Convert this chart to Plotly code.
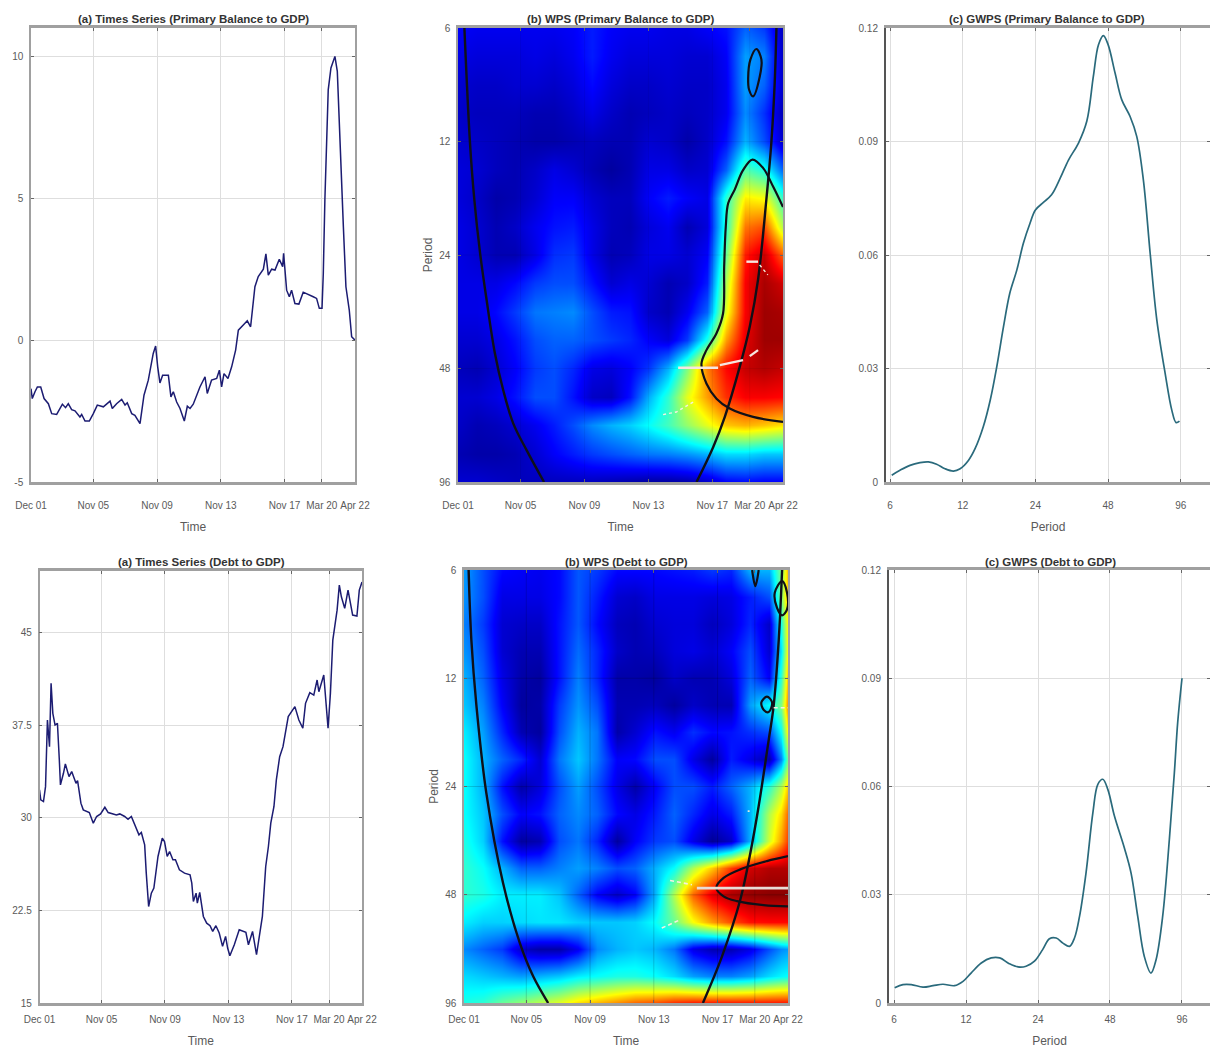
import plotly.graph_objects as go

# ---------- tick labels ----------
time_tick_vals = [2001.92, 2005.83, 2009.83, 2013.83, 2017.83, 2020.17, 2022.25]
time_tick_text = ["Dec 01", "Nov 05", "Nov 09", "Nov 13", "Nov 17", "Mar 20", "Apr 22"]
period_ticks = [6, 12, 24, 48, 96]

# ---------- (a) time series, primary balance ----------
pb_time = [2001.92,2002.00,2002.17,2002.32,2002.53,2002.74,2003.01,2003.22,2003.53,2003.89,2004.09,2004.26,2004.47,2004.68,2004.99,2005.10,2005.31,2005.58,2005.83,2006.08,2006.46,2006.88,2007.02,2007.29,2007.61,2007.82,2007.96,2008.24,2008.44,2008.76,2009.01,2009.28,2009.59,2009.74,2009.87,2010.01,2010.18,2010.54,2010.70,2010.85,2011.06,2011.27,2011.54,2011.73,2011.90,2012.10,2012.52,2012.84,2012.98,2013.25,2013.57,2013.74,2013.88,2014.03,2014.28,2014.51,2014.76,2014.93,2015.24,2015.49,2015.70,2015.97,2016.18,2016.50,2016.66,2016.81,2017.02,2017.23,2017.50,2017.71,2017.77,2017.96,2018.13,2018.27,2018.48,2018.73,2019.00,2019.32,2019.63,2019.84,2020.01,2020.18,2020.26,2020.36,2020.57,2020.74,2020.99,2021.14,2021.31,2021.52,2021.68,2021.89,2022.04,2022.25]
pb_value = [-1.71,-2.06,-1.82,-1.65,-1.65,-2.06,-2.24,-2.59,-2.62,-2.26,-2.38,-2.24,-2.45,-2.49,-2.71,-2.62,-2.85,-2.85,-2.59,-2.29,-2.35,-2.15,-2.41,-2.24,-2.09,-2.29,-2.21,-2.59,-2.65,-2.94,-1.94,-1.41,-0.47,-0.21,-0.94,-1.51,-1.24,-1.24,-2.0,-1.82,-2.18,-2.41,-2.85,-2.33,-2.41,-2.26,-1.65,-1.29,-1.88,-1.41,-1.35,-1.06,-1.65,-1.18,-1.35,-0.94,-0.35,0.35,0.53,0.68,0.47,1.88,2.24,2.5,3.04,2.29,2.5,2.47,2.85,2.59,3.06,1.76,1.53,1.76,1.29,1.27,1.69,1.62,1.53,1.47,1.12,1.12,2.35,4.94,8.82,9.59,10.0,9.47,7.29,4.0,1.88,1.06,0.12,0.0]

# ---------- (a) time series, debt ----------
debt_time = [2001.92,2002.00,2002.17,2002.30,2002.42,2002.55,2002.65,2002.76,2002.90,2003.05,2003.17,2003.24,2003.43,2003.55,2003.78,2003.95,2004.22,2004.32,2004.53,2004.68,2005.06,2005.31,2005.52,2005.77,2006.04,2006.25,2006.77,2006.98,2007.29,2007.50,2007.71,2008.03,2008.19,2008.34,2008.55,2008.65,2008.80,2008.97,2009.13,2009.39,2009.66,2009.80,2009.97,2010.12,2010.33,2010.49,2010.74,2011.06,2011.41,2011.52,2011.62,2011.79,2011.87,2012.02,2012.25,2012.46,2012.67,2012.84,2013.04,2013.25,2013.46,2013.65,2013.78,2013.92,2014.20,2014.51,2014.93,2015.09,2015.35,2015.60,2015.81,2015.97,2016.18,2016.35,2016.50,2016.70,2016.85,2017.06,2017.27,2017.44,2017.60,2018.02,2018.27,2018.52,2018.69,2018.96,2019.21,2019.42,2019.53,2019.84,2019.99,2020.11,2020.26,2020.41,2020.68,2020.82,2020.95,2021.16,2021.37,2021.66,2021.93,2022.08,2022.25]
debt_value = [32.26,31.46,31.32,32.53,37.93,35.77,40.9,38.47,37.52,37.66,34.69,32.67,33.61,34.37,33.34,33.75,32.8,33.02,31.19,30.65,30.43,29.57,30.11,30.32,30.86,30.43,30.24,30.32,30.11,29.89,30.11,29.03,28.62,28.81,27.81,25.52,22.82,23.9,24.31,26.87,28.35,28.08,26.87,27.27,26.6,26.6,25.79,25.52,25.39,24.71,23.23,23.9,23.09,23.96,22.01,21.47,21.26,20.8,21.26,20.67,19.59,20.4,19.45,18.83,19.72,20.93,20.72,19.72,20.8,18.91,20.67,22.01,26.06,27.68,29.57,30.92,33.07,34.96,35.77,37.12,38.2,39.01,37.93,37.26,39.28,40.14,39.95,41.17,40.22,41.57,39.01,37.26,40.09,44.4,46.83,48.85,47.91,46.97,48.45,46.43,46.35,48.45,49.1]

# ---------- (c) global wavelet power ----------
gwps_pb_period = [6.10,6.60,7.26,7.99,8.65,9.36,10.14,10.98,11.71,12.67,13.5,14.6,15.6,16.6,17.7,18.8,20.1,21.4,22.8,24,25.9,28.0,30.4,32.9,36.2,39.2,41.7,43.8,45.9,48,51.3,54.7,59.2,63.1,67.2,71.7,76.4,82.7,88.1,91.8,94.8]
gwps_pb_value = [.0018,.0031,.0044,.0051,.0053,.0047,.0035,.0029,.0035,.0057,.0088,.0146,.0216,.0304,.0410,.0499,.0560,.0631,.0684,.0719,.0739,.0759,.0803,.0851,.0896,.0954,.1072,.1156,.1180,.1156,.1081,.1010,.0966,.0913,.0798,.0604,.0428,.0287,.0190,.0157,.0161]
gwps_debt_period = [6.04,6.54,7.09,7.93,8.73,9.61,10.75,11.66,12.6,13.9,15.3,16.6,18.2,19.8,21.4,23.2,25.1,26.8,28.6,30.5,32.5,34.1,35.8,38.1,40.7,42.7,44.8,47.0,50.1,55.1,58.8,62.7,66.8,71.2,74.8,79.7,85.0,89.2,92.1,96]
gwps_debt_value = [.0042,.0051,.0051,.0044,.0048,.0052,.0048,.0060,.0083,.0111,.0125,.0125,.0109,.0100,.0102,.0116,.0148,.0178,.0180,.0166,.0157,.0180,.0240,.0360,.0527,.0606,.0620,.0592,.0518,.0430,.0360,.0240,.0129,.0083,.0120,.0240,.0453,.0638,.0777,.0900]

# ---------- (b) wavelet power grids ----------
wps_periods = [6,7.14,8.49,10.09,12,14.27,16.97,20.18,24,28.54,33.94,40.36,48,57.08,67.88,80.73,96]
wps_pb_time = [2001.92,2003.12,2004.31,2005.51,2006.71,2007.90,2009.10,2010.29,2011.49,2012.68,2013.88,2015.07,2016.27,2017.47,2018.66,2019.86,2021.05,2022.25]
wps_debt_time = [2001.92,2003.12,2004.31,2005.51,2006.71,2007.90,2009.10,2010.29,2011.49,2012.68,2013.88,2015.07,2016.27,2017.47,2018.66,2019.86,2021.05,2021.8,2022.25]

wps_pb = [
 [.12,.11,.11,.11,.11,.11,.12,.15,.12,.11,.11,.10,.10,.12,.14,.22,.18,.06],
 [.10,.09,.09,.09,.10,.09,.11,.15,.11,.09,.09,.09,.08,.08,.12,.28,.25,.06],
 [.08,.07,.07,.08,.08,.07,.09,.13,.09,.07,.07,.08,.07,.07,.11,.28,.22,.07],
 [.07,.06,.06,.06,.05,.05,.07,.10,.07,.05,.06,.07,.06,.07,.11,.26,.17,.05],
 [.08,.07,.06,.05,.04,.04,.05,.06,.05,.05,.08,.07,.04,.07,.14,.30,.20,.07],
 [.09,.08,.06,.05,.07,.10,.08,.05,.03,.05,.10,.10,.07,.08,.22,.46,.40,.22],
 [.09,.07,.04,.05,.08,.12,.12,.08,.06,.06,.12,.15,.12,.10,.42,.64,.62,.42],
 [.10,.08,.05,.07,.11,.14,.15,.10,.06,.05,.09,.11,.05,.09,.42,.76,.80,.55],
 [.10,.08,.05,.05,.10,.17,.18,.10,.05,.06,.10,.10,.08,.12,.48,.85,.93,.78],
 [.10,.10,.10,.13,.18,.20,.20,.14,.08,.10,.08,.05,.07,.15,.55,.88,.96,.92],
 [.10,.10,.13,.18,.24,.25,.26,.20,.15,.14,.07,.05,.11,.22,.60,.88,.97,.96],
 [.08,.08,.10,.14,.20,.22,.22,.20,.18,.16,.12,.09,.18,.40,.72,.90,.97,.97],
 [.06,.05,.08,.12,.18,.20,.16,.10,.09,.12,.18,.30,.50,.75,.87,.93,.95,.93],
 [.08,.08,.10,.14,.20,.20,.14,.07,.06,.14,.30,.42,.60,.72,.83,.88,.88,.87],
 [.07,.05,.06,.08,.11,.15,.20,.26,.30,.33,.38,.44,.52,.60,.68,.70,.68,.65],
 [.05,.04,.04,.05,.08,.12,.15,.18,.20,.22,.24,.25,.27,.30,.34,.34,.32,.32],
 [.08,.08,.07,.06,.06,.06,.06,.06,.05,.04,.03,.03,.04,.07,.12,.13,.12,.12],
]
wps_debt = [
 [.28,.20,.13,.12,.11,.13,.21,.18,.13,.13,.13,.14,.15,.18,.16,.30,.30,.50,.70],
 [.27,.20,.10,.10,.10,.13,.21,.15,.08,.07,.10,.10,.10,.09,.10,.15,.20,.50,.70],
 [.25,.18,.08,.07,.07,.14,.21,.13,.06,.05,.08,.09,.09,.06,.09,.16,.07,.40,.65],
 [.27,.20,.08,.05,.05,.14,.23,.16,.07,.05,.06,.09,.10,.08,.12,.20,.08,.35,.65],
 [.30,.22,.10,.04,.03,.14,.25,.16,.04,.04,.03,.07,.05,.05,.09,.22,.12,.42,.70],
 [.32,.25,.12,.03,.04,.18,.27,.20,.05,.05,.06,.03,.07,.05,.05,.28,.38,.50,.75],
 [.36,.28,.16,.05,.03,.20,.30,.24,.04,.08,.14,.11,.17,.13,.14,.17,.20,.38,.65],
 [.38,.30,.22,.16,.08,.24,.32,.24,.12,.13,.20,.20,.10,.03,.15,.10,.04,.25,.50],
 [.38,.30,.14,.04,.09,.20,.28,.20,.10,.04,.12,.20,.20,.15,.22,.30,.42,.55,.68],
 [.38,.32,.20,.12,.14,.22,.26,.22,.13,.10,.15,.22,.16,.10,.15,.30,.55,.66,.78],
 [.40,.33,.14,.03,.05,.20,.24,.16,.03,.12,.18,.20,.10,.02,.07,.30,.58,.72,.82],
 [.42,.38,.30,.22,.22,.25,.28,.25,.20,.22,.30,.38,.55,.68,.82,.92,.95,.95,.95],
 [.42,.40,.36,.36,.36,.32,.22,.12,.07,.12,.30,.55,.78,.90,.96,.98,.99,.99,.99],
 [.36,.33,.33,.34,.35,.35,.33,.32,.32,.33,.38,.48,.62,.72,.80,.86,.87,.87,.87],
 [.26,.22,.18,.07,.04,.04,.11,.26,.30,.32,.30,.24,.10,.05,.05,.10,.20,.26,.28],
 [.34,.32,.30,.28,.30,.32,.36,.38,.40,.40,.38,.34,.28,.25,.25,.28,.34,.37,.38],
 [.40,.42,.48,.52,.56,.60,.66,.70,.74,.78,.80,.84,.86,.86,.86,.86,.86,.86,.86],
]

# ---------- overlays: cone of influence, significance contours, ridges ----------
coi_pb_left = ([2002.32,2002.67,2002.94,2003.3,2003.71,2004.23,2004.75,2005.38,2006.21,2007.3],
               [6,12.1,17.1,23.7,31.6,43.8,54.8,67.2,79,96])
coi_pb_right = ([2021.84,2021.73,2021.52,2021.21,2020.69,2020.17,2019.55,2018.61,2017.88,2016.84],
                [6,8.4,12.1,17.1,27.9,37.2,47.4,64.5,77.6,96])
sig_pb_big = ([2022.25,2021.63,2021.0,2020.34,2019.75,2019.23,2018.82,2018.67,2018.57,2018.5,2018.09,2017.46,2017.15,2017.46,2018.09,2018.92,2020.38,2022.25],
              [17.9,15.8,14.1,13.4,14.3,16.1,17.5,20.2,25.8,34.3,38.7,42.9,46.6,52.6,57.7,61.3,64.5,66.5])
sig_pb_small = ([2020.59,2020.9,2020.8,2020.38,2020.13,2020.07,2020.21,2020.59],
                [6.82,7.28,8.06,9.11,8.75,8.15,7.28,6.82])
ridge_pb = ([2019.96,2020.69,None,2015.69,2018.19,None,2018.3,2019.75,None,2020.17,2020.69],
            [25,25,None,47.8,47.8,None,47,45.6,None,44.5,42.9])
ridge_pb_thin = ([2020.79,2021.3,None,2014.75,2015.58,2016.63],
                 [25.5,27.1,None,63.6,62.6,58.9])

coi_debt_left = ([2002.21,2002.38,2002.70,2003.32,2004.37,2005.42,2006.26,2007.2],
                 [6,9.36,14.3,25,44.5,65.3,80.9,96])
coi_debt_right = ([2021.88,2021.67,2021.35,2021.04,2020.41,2019.89,2019.26,2018.11,2016.91],
                  [6,9.36,14.3,17.8,27.2,36.7,49.5,71.2,96])
sig_debt_big = ([2022.25,2020.93,2019.26,2018.21,2017.75,2018.21,2019.05,2020.72,2022.25],
                [37.5,38.7,40.8,43.1,45.9,48.5,50,51.3,51.7])
sig_debt_small = ([2020.93,2021.25,2021.04,2020.73,2020.58,2020.93],
                  [13.5,14.0,14.9,14.7,14.0,13.5])
sig_debt_right = ([2021.88,2022.19,2022.19,2021.88,2021.56,2021.42,2021.88],
                  [6.44,6.94,7.72,8.02,7.64,6.94,6.44])
sig_debt_top = ([2020.0,2020.2,2020.41],[6,6.65,6])
ridge_debt = ([2016.53,2022.25],[46,46])
ridge_debt_thin = ([2014.85,2016.22,None,2014.33,2015.38,None,2019.72,2019.84,None,2021.35,2022.25],
                   [43.8,45,None,59.4,56.6,None,28.1,28.1,None,14.5,14.5])

jet = [[0,"rgb(0,0,128)"],[.125,"rgb(0,0,255)"],[.375,"rgb(0,255,255)"],
       [.625,"rgb(255,255,0)"],[.875,"rgb(255,0,0)"],[1,"rgb(128,0,0)"]]

W, H = 1210, 1048
FONT = "Liberation Sans"
TICK = "#5a5a5a"
GRID = "#dedede"
SPINE = "#a0a0a0"
TOP_ROW_LABEL_GAP = 12
BOTTOM_ROW_LABEL_GAP = 5
TITLE_GAP = 13

fig = go.Figure()

def axes(n, left, right, top, bottom, xkw, ykw):
    sfx = "" if n == 1 else str(n)
    fig.layout["xaxis" + sfx] = dict(domain=[left / W, right / W], anchor="y" + sfx, **xkw)
    fig.layout["yaxis" + sfx] = dict(domain=[1 - bottom / H, 1 - top / H], anchor="x" + sfx, **ykw)

common_x = dict(showline=True, mirror="ticks", linecolor=SPINE, linewidth=2.5, ticks="inside", ticklen=3,
                tickcolor="#666", showgrid=True, gridcolor=GRID, gridwidth=1, zeroline=False, automargin=False,
                tickfont=dict(family=FONT, size=10, color=TICK))
common_y = dict(showline=True, mirror="ticks", linecolor=SPINE, linewidth=1.5, ticks="inside", ticklen=3,
                tickcolor="#666", showgrid=True, gridcolor=GRID, gridwidth=1, zeroline=False, automargin=False,
                ticklabelstandoff=4, tickfont=dict(family=FONT, size=10, color=TICK))

def time_x(gap):
    return dict(common_x, range=[2001.92, 2022.25], tickmode="array", tickvals=time_tick_vals,
                ticktext=time_tick_text, tickangle=0, ticklabelstandoff=gap,
                title=dict(text="Time", standoff=TITLE_GAP, font=dict(family=FONT, size=12, color=TICK)))

def period_x(lo, hi, gap):
    return dict(common_x, type="log", range=[lo, hi], tickmode="array", tickvals=period_ticks,
                ticktext=[str(p) for p in period_ticks], tickangle=0, ticklabelstandoff=gap,
                title=dict(text="Period", standoff=TITLE_GAP, font=dict(family=FONT, size=12, color=TICK)))

def period_y():
    return dict(common_y, type="log", range=[1.98227, 0.77815], tickmode="array", tickvals=period_ticks,
                ticktext=[str(p) for p in period_ticks],
                title=dict(text="Period", standoff=4, font=dict(family=FONT, size=12, color=TICK)))

def gwps_y():
    return dict(common_y, range=[0, 0.12], tickmode="array", tickvals=[0, .03, .06, .09, .12],
                ticktext=["0", "0.03", "0.06", "0.09", "0.12"], linecolor="#555", linewidth=2)

# layout of the six panels
axes(1, 31, 355, 28, 482, time_x(TOP_ROW_LABEL_GAP), dict(common_y, range=[-5, 11], tickmode="array",
     tickvals=[-5, 0, 5, 10], ticktext=["-5", "0", "5", "10"]))
axes(2, 458, 783, 28, 482, time_x(TOP_ROW_LABEL_GAP), period_y())
axes(3, 886, 1210, 28, 482, period_x(0.7616, 2.1032, TOP_ROW_LABEL_GAP), gwps_y())
axes(4, 39.5, 362, 571, 1003, time_x(BOTTOM_ROW_LABEL_GAP), dict(common_y, range=[15, 50], tickmode="array",
     tickvals=[15, 22.5, 30, 37.5, 45], ticktext=["15", "22.5", "30", "37.5", "45"]))
axes(5, 464, 788, 570, 1003, time_x(BOTTOM_ROW_LABEL_GAP), period_y())
axes(6, 889, 1210, 570, 1003, period_x(0.7572, 2.0994, BOTTOM_ROW_LABEL_GAP), gwps_y())

def line(n, x, y, color, width, dash=None, shape="linear", opacity=1):
    sfx = "" if n == 1 else str(n)
    fig.add_trace(go.Scatter(x=x, y=y, mode="lines", xaxis="x" + sfx, yaxis="y" + sfx, showlegend=False,
                             hoverinfo="skip", opacity=opacity,
                             line=dict(color=color, width=width, dash=dash, shape=shape)))

# time series
line(1, pb_time, pb_value, "#1c1c72", 1.5)
line(4, debt_time, debt_value, "#1c1c72", 1.5)
# global wavelet power
line(3, gwps_pb_period, gwps_pb_value, "#2a6a7c", 1.7, shape="spline")
line(6, gwps_debt_period, gwps_debt_value, "#2a6a7c", 1.7, shape="spline")

# wavelet power
for n, t, z in ((2, wps_pb_time, wps_pb), (5, wps_debt_time, wps_debt)):
    fig.add_trace(go.Heatmap(x=t, y=wps_periods, z=z, zmin=0, zmax=1, colorscale=jet, zsmooth="best",
                             showscale=False, xaxis=f"x{n}", yaxis=f"y{n}", hoverinfo="skip"))
    alpha = "rgba(0,0,0,0.08)" if n == 2 else "rgba(0,0,0,0.2)"
    for p in period_ticks[1:-1]:
        line(n, [2001.92, 2022.25], [p, p], alpha, 0.8)
    for v in time_tick_vals[1:-1]:
        line(n, [v, v], [6, 96], alpha, 0.8)

BLK = "#101018"
for c in (coi_pb_left, coi_pb_right):
    line(2, c[0], c[1], BLK, 2.4, shape="spline")
for c in (sig_pb_big, sig_pb_small):
    line(2, c[0], c[1], BLK, 2.2, shape="spline")
line(2, ridge_pb[0], ridge_pb[1], "#f6e6e0", 2.4)
line(2, ridge_pb_thin[0], ridge_pb_thin[1], "#f6f0e0", 1.4, dash="3px,3px")

for c in (coi_debt_left, coi_debt_right):
    line(5, c[0], c[1], BLK, 2.4, shape="spline")
for c in (sig_debt_big, sig_debt_small, sig_debt_right, sig_debt_top):
    line(5, c[0], c[1], BLK, 2.2, shape="spline")
line(5, ridge_debt[0], ridge_debt[1], "#e8dcd6", 2.6)
line(5, ridge_debt_thin[0], ridge_debt_thin[1], "#f6f0e0", 1.6, dash="4px,3px")

# panel titles
titles = [("(a) Times Series (Primary Balance to GDP)", 194, 19),
          ("(b) WPS (Primary Balance to GDP)", 620, 19),
          ("(c) GWPS (Primary Balance to GDP)", 1047, 19),
          ("(a) Times Series (Debt to GDP)", 201, 562),
          ("(b) WPS (Debt to GDP)", 626, 562),
          ("(c) GWPS (Debt to GDP)", 1050, 562)]
fig.update_layout(annotations=[dict(text=f"<b>{t}</b>", x=x / W, y=1 - y / H, xref="paper", yref="paper",
                                    showarrow=False, xanchor="center", yanchor="middle",
                                    font=dict(family=FONT, size=11.5, color="#333")) for t, x, y in titles])

fig.update_layout(width=W, height=H, margin=dict(l=0, r=0, t=0, b=0, autoexpand=False), paper_bgcolor="white",
                  plot_bgcolor="white", showlegend=False)

fig.write_html("out.html", config={"displayModeBar": False},
               post_script="document.body.style.margin='0';document.body.style.overflow='hidden';")
